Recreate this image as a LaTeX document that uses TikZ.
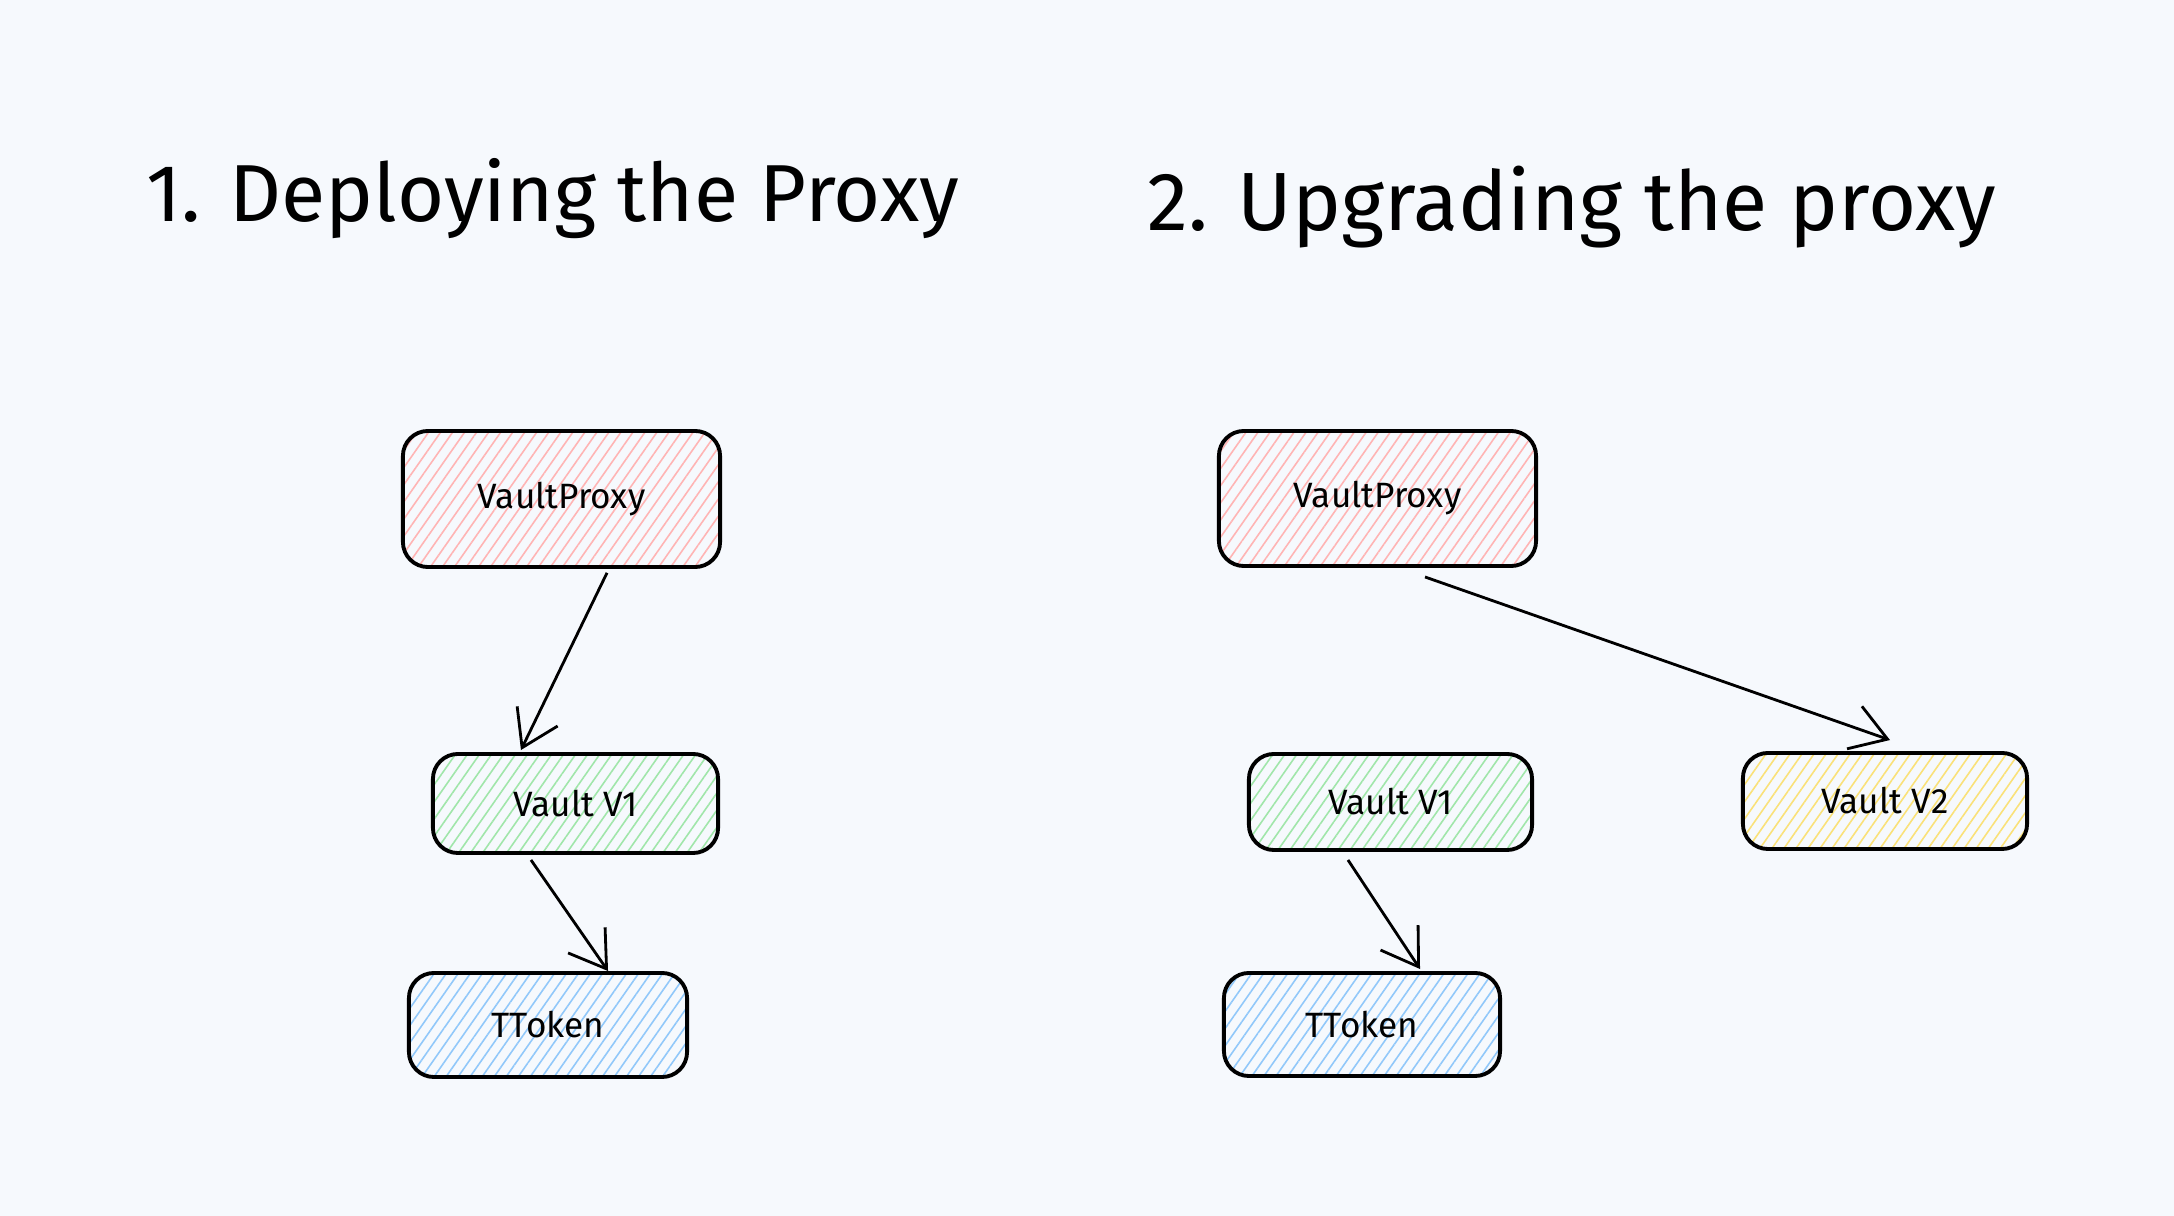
\documentclass[tikz,border=0pt]{standalone}
\usepackage{fontspec}
\setmainfont{Fira Sans}
\usepackage{xcolor}
\usepackage{tikz}
\usetikzlibrary{arrows.meta,positioning,patterns.meta}

\definecolor{paper}{RGB}{246,249,253}
\definecolor{hatchred}{RGB}{255,180,180}
\definecolor{hatchgreen}{RGB}{160,230,170}
\definecolor{hatchblue}{RGB}{145,200,250}
\definecolor{hatchyellow}{RGB}{250,225,120}

\begin{document}
\begin{tikzpicture}[x=0.01cm, y=-0.01cm,
  box/.style={draw=black, line width=1.1pt, rounded corners=0.25cm,
    pattern={Lines[angle=55,distance=2.8pt,line width=0.45pt]},
    font=\fontsize{10}{12}\selectfont, inner sep=0pt},
  link/.style={line width=0.8pt, -{Straight Barb[length=3.5mm,width=4.5mm,line width=0.8pt]}},
  title/.style={anchor=base, font=\fontsize{23}{28}\selectfont}]
  % page
  \fill[paper] (0,0) rectangle (2174,1216);
  \useasboundingbox (0,0) rectangle (2174,1216);
  % Left panel: deploying
  \node[title] (titleA) at (553,222) {1. Deploying the Proxy};
  \node[box, pattern color=hatchred, minimum width=3.17cm, minimum height=1.36cm] (proxyA) at (561.5,499) {VaultProxy};
  \node[box, pattern color=hatchgreen, minimum width=2.85cm, minimum height=0.99cm] (vaultA) at (575.5,803.5) {Vault V1};
  \node[box, pattern color=hatchblue, minimum width=2.78cm, minimum height=1.04cm] (tokenA) at (548,1025) {TToken};
  \draw[link] ([xshift=0.455cm, yshift=-0.05cm]proxyA.south) -- ([xshift=-0.545cm, yshift=0.02cm]vaultA.north);
  \draw[link] ([xshift=-0.445cm, yshift=-0.05cm]vaultA.south) -- ([xshift=0.6cm]tokenA.north);
  % Right panel: upgrading
  \node[title, font=\fontsize{23.5}{28}\selectfont] (titleB) at (1572,231) {2. Upgrading the proxy};
  \node[box, pattern color=hatchred, minimum width=3.17cm, minimum height=1.35cm] (proxyB) at (1377.5,498.5) {VaultProxy};
  \node[box, pattern color=hatchgreen, minimum width=2.83cm, minimum height=0.96cm] (vaultB) at (1390.5,802) {Vault V1};
  \node[box, pattern color=hatchyellow, minimum width=2.84cm, minimum height=0.96cm] (vaultC) at (1885,801) {Vault V2};
  \node[box, pattern color=hatchblue, minimum width=2.76cm, minimum height=1.03cm] (tokenB) at (1362,1024.5) {TToken};
  \draw[link] ([xshift=0.475cm, yshift=-0.09cm]proxyB.south) -- ([xshift=0.05cm, yshift=0.11cm]vaultC.north);
  \draw[link] ([xshift=-0.425cm, yshift=-0.08cm]vaultB.south) -- ([xshift=0.58cm, yshift=0.02cm]tokenB.north);
\end{tikzpicture}
\end{document}
